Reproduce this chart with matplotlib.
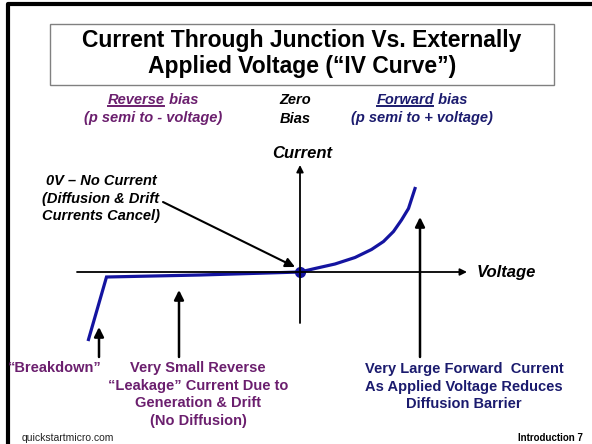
import numpy as np
import matplotlib
matplotlib.use('Agg')
import matplotlib.pyplot as plt

# Datos de la curva IV (unidades arbitrarias)
v_rev = [-4.23, -3.87, -2.00, -0.66, 0.0]
i_rev = [-1.35, -0.10, -0.06, -0.02, 0.0]
v_fwd = [0.0, 0.30, 0.70, 1.10, 1.43, 1.67, 1.87, 2.03, 2.17, 2.30]
i_fwd = [0.0, 0.07, 0.16, 0.29, 0.45, 0.61, 0.81, 1.04, 1.27, 1.67]

# Ejes del dibujo
v_axis = (-4.46, 3.34)
i_axis = (-1.02, 2.14)

titulo = ['Current Through Junction Vs. Externally', 'Applied Voltage (\u201cIV Curve\u201d)']
rev_lines = ['(p semi to - voltage)']
fwd_lines = ['(p semi to + voltage)']
cero_lines = ['0V \u2013 No Current', '(Diffusion & Drift', 'Currents Cancel)']
leak_lines = ['Very Small Reverse', '\u201cLeakage\u201d Current Due to', 'Generation & Drift', '(No Diffusion)']
fwd_big_lines = ['Very Large Forward  Current', 'As Applied Voltage Reduces', 'Diffusion Barrier']

morado = '#6B1F6E'
marino = '#1B1B6E'
azul = '#1414A0'
fuente = 'Liberation Sans'
fs = 10.5

W, H = 592, 444
fig = plt.figure(figsize=(W/100, H/100), dpi=100)

# capa de la diapositiva en pixeles
slide = fig.add_axes([0, 0, 1, 1])
slide.set_xlim(0, W)
slide.set_ylim(H, 0)
slide.axis('off')

# capa de datos: origen en (300, 272), 50 px por unidad
ax = fig.add_axes([0, 0, 1, 1])
ax.set_xlim((0-300)/50, (W-300)/50)
ax.set_ylim((272-H)/50, 272/50)
ax.axis('off')
ax.patch.set_alpha(0)

# marco de la diapositiva
slide.plot([7.5, 7.5, W], [H, 4.5, 4.5], color='black', lw=3, solid_capstyle='butt')
slide.add_patch(plt.Rectangle((50, 24), 504, 61, fill=False, ec='#808080', lw=1))

for k, t in enumerate(titulo):
    slide.text(302, 41 + 26*k, t, ha='center', va='center', fontsize=16.5,
               fontweight='bold', family=fuente)

def etiqueta(x, y, t, color, **kw):
    return slide.text(x, y, t, ha='center', va='center', fontsize=fs, color=color,
                      fontweight='bold', family=fuente, **kw)

# Reverse bias / Forward bias con subrayado
fig.canvas.draw()
ren = fig.canvas.get_renderer()

def subrayado(xc, y, palabra, resto, color):
    t1 = slide.text(0, y, palabra, va='center', fontsize=fs, color=color,
                    fontweight='bold', style='italic', family=fuente)
    t2 = slide.text(0, y, resto, va='center', fontsize=fs, color=color,
                    fontweight='bold', style='italic', family=fuente)
    w1 = t1.get_window_extent(ren).width
    w2 = t2.get_window_extent(ren).width
    x0 = xc - (w1 + w2)/2
    t1.set_x(x0)
    t2.set_x(x0 + w1)
    slide.plot([x0, x0 + w1 - 1], [y + 6.5, y + 6.5], color=color, lw=1.4)

subrayado(153, 100, 'Reverse', ' bias', morado)
subrayado(422, 100, 'Forward', ' bias', marino)
etiqueta(153, 118, rev_lines[0], morado, style='italic')
etiqueta(422, 118, fwd_lines[0], marino, style='italic')
etiqueta(295, 100, 'Zero', 'black', style='italic')
etiqueta(295, 119, 'Bias', 'black', style='italic')

# ejes Current / Voltage
ax.annotate('', xy=(v_axis[1], 0), xytext=(v_axis[0], 0),
            arrowprops=dict(arrowstyle='-|>', lw=1.3, color='black', mutation_scale=10, shrinkA=0, shrinkB=0))
ax.annotate('', xy=(0, i_axis[1]), xytext=(0, i_axis[0]),
            arrowprops=dict(arrowstyle='-|>', lw=1.3, color='black', mutation_scale=10, shrinkA=0, shrinkB=0))
slide.text(302, 153, 'Current', ha='center', va='center', fontsize=12, fontweight='bold',
           style='italic', family=fuente)
slide.text(477, 272, 'Voltage', ha='left', va='center', fontsize=12, fontweight='bold',
           style='italic', family=fuente)

# curva
ax.plot(v_rev, i_rev, color=azul, lw=2.3, solid_joinstyle='miter')
ax.plot(v_fwd, i_fwd, color=azul, lw=2.3, solid_joinstyle='round')
ax.plot([0], [0], 'o', color=azul, ms=7)

# texto 0V
for k, t in enumerate(cero_lines):
    slide.text(101, 181 + 17.5*k, t, ha='center', va='center', fontsize=fs,
               fontweight='bold', style='italic', family=fuente)
slide.annotate('', xy=(295, 267), xytext=(163, 202),
               arrowprops=dict(arrowstyle='-|>', lw=1.5, color='black', mutation_scale=14,
                               shrinkA=0, shrinkB=0))

# flechas verticales
for xf, ytip in [(99, 327), (179, 290), (420, 217)]:
    slide.annotate('', xy=(xf, ytip), xytext=(xf, 357),
                   arrowprops=dict(arrowstyle='-|>', lw=1.8, color='black', mutation_scale=14,
                                   shrinkA=0, shrinkB=0))

etiqueta(55, 368, '\u201cBreakdown\u201d', morado)
for k, t in enumerate(leak_lines):
    etiqueta(198, 368 + 17.7*k, t, morado)
for k, t in enumerate(fwd_big_lines):
    etiqueta(464, 369 + 17.5*k, t, marino)

slide.text(22, 438, 'quickstartmicro.com', ha='left', va='center', fontsize=7.5,
           color='#222222', family=fuente)
slide.text(583, 438, 'Introduction 7', ha='right', va='center', fontsize=7,
           fontweight='bold', family=fuente)

fig.savefig('out.png', dpi=100)
